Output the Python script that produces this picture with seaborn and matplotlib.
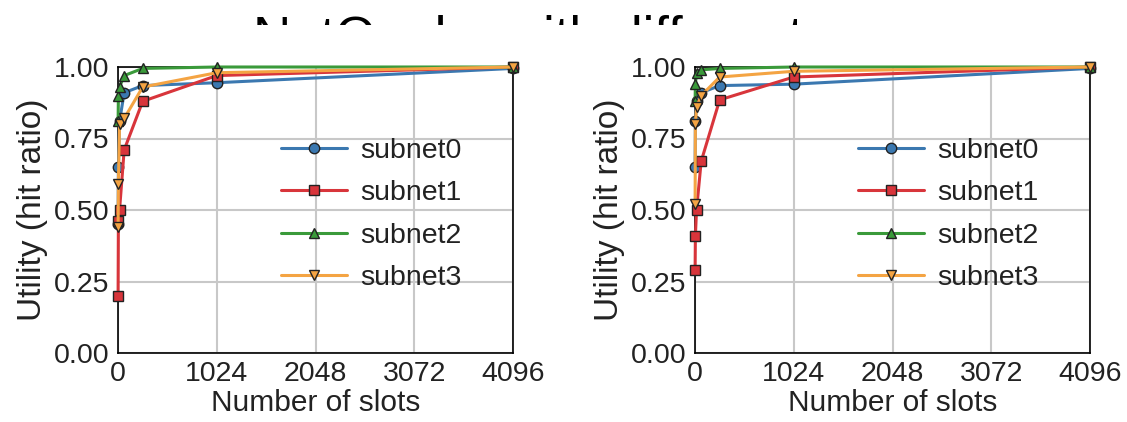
import matplotlib
matplotlib.use("Agg")
import matplotlib.pyplot as plt
import numpy as np
import pandas as pd
import seaborn as sns
from matplotlib.patches import Rectangle

# cache slots tested
slots = [1, 4, 16, 64, 256, 1024, 4096]
subnets = ["subnet0", "subnet1", "subnet2", "subnet3"]

# left panel hit ratios
left_subnet0 = [0.45, 0.65, 0.81, 0.91, 0.935, 0.945, 0.995]
left_subnet1 = [0.20, 0.46, 0.50, 0.71, 0.88, 0.97, 1.0]
left_subnet2 = [0.81, 0.90, 0.93, 0.97, 0.995, 1.0, 1.0]
left_subnet3 = [0.44, 0.59, 0.80, 0.82, 0.93, 0.98, 1.0]

# right panel hit ratios
right_subnet0 = [0.65, 0.81, 0.88, 0.91, 0.935, 0.94, 0.995]
right_subnet1 = [0.29, 0.41, 0.50, 0.67, 0.885, 0.965, 1.0]
right_subnet2 = [0.88, 0.94, 0.98, 0.99, 0.995, 1.0, 1.0]
right_subnet3 = [0.52, 0.80, 0.86, 0.90, 0.965, 0.985, 1.0]

x_ticks = [0, 1024, 2048, 3072, 4096]
y_ticks = [0.0, 0.25, 0.5, 0.75, 1.0]
title = "NetQuake with different"

colors = ["#3b78b0", "#d8353b", "#3a9a3a", "#f4a443"]
markers = ["o", "s", "^", "v"]


def draw_panel(ax, values):
    for name, vals, c, m in zip(subnets, values, colors, markers):
        df = pd.DataFrame({"slots": slots, "utility": vals})
        sns.lineplot(data=df, x="slots", y="utility", ax=ax, color=c, marker=m,
                     markersize=7.5, markeredgecolor="#222222", markeredgewidth=1.0,
                     linewidth=2.2, label=name, zorder=3, clip_on=False)
    ax.set_xlim(0, 4096)
    ax.set_ylim(0, 1.0)
    ax.set_xticks(x_ticks)
    ax.set_yticks(y_ticks)
    ax.set_xticklabels([str(t) for t in x_ticks])
    ax.set_yticklabels(["%.2f" % t for t in y_ticks])
    ax.set_xlabel("Number of slots", fontsize=21.5, labelpad=1)
    ax.set_ylabel("Utility (hit ratio)", fontsize=24, labelpad=4)
    ax.tick_params(labelsize=20.5, length=4, width=1, pad=2, color="#333333")
    ax.grid(True, color="#c8c8c8", linewidth=1.5)
    for s in ax.spines.values():
        s.set_color("black")
        s.set_linewidth(1.2)
    ax.legend(loc="center left", bbox_to_anchor=(0.385, 0.485), frameon=False,
              fontsize=20.5, handlelength=2.3, labelspacing=0.58, handletextpad=0.45,
              borderaxespad=0)
    ax.set_zorder(3)


def main():
    sns.set_style("whitegrid")
    plt.rcParams["font.family"] = ["Liberation Sans", "DejaVu Sans"]
    plt.rcParams["axes.edgecolor"] = "black"
    plt.rcParams["text.color"] = "#222222"
    plt.rcParams["axes.labelcolor"] = "#222222"
    plt.rcParams["xtick.color"] = "#222222"
    plt.rcParams["ytick.color"] = "#222222"

    fig = plt.figure(figsize=(11.27, 4.22), dpi=100)
    W, H = 1127.0, 422.0
    ax1 = fig.add_axes([118 / W, 1 - 353 / H, 395 / W, 286 / H])
    ax2 = fig.add_axes([695 / W, 1 - 353 / H, 395 / W, 286 / H])

    draw_panel(ax1, [left_subnet0, left_subnet1, left_subnet2, left_subnet3])
    draw_panel(ax2, [right_subnet0, right_subnet1, right_subnet2, right_subnet3])

    # title, mostly hidden under the panel strip
    fig.text(253 / W, 1 - 53 / H, title, fontsize=38, ha="left", va="baseline",
             color="black", zorder=1)
    fig.patches.append(Rectangle((0, 1 - 66 / H), 1, 41 / H, transform=fig.transFigure,
                                 facecolor="white", edgecolor="none", zorder=2))

    fig.savefig("out.png", dpi=100)


if __name__ == "__main__":
    main()
